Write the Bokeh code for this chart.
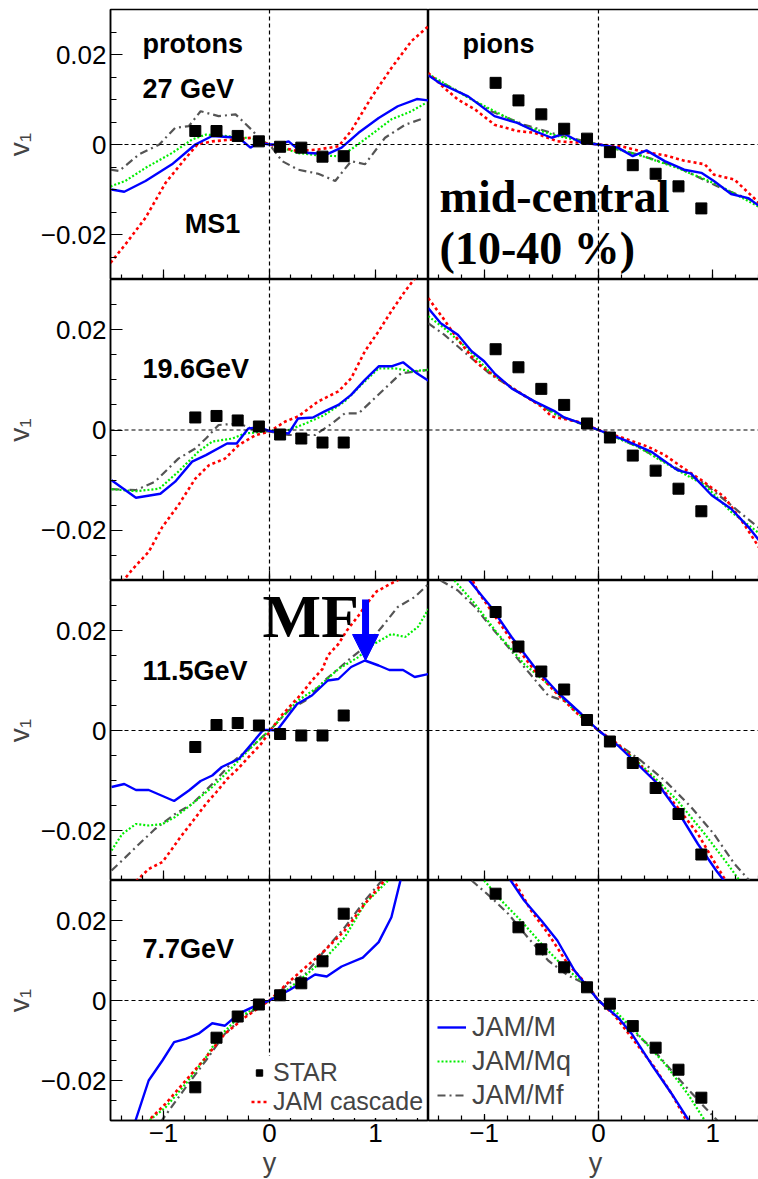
from bokeh.plotting import figure
from bokeh.layouts import column, row
from bokeh.models import (Range1d, FixedTicker, Span, Label, Legend, LegendItem,
                          Arrow, NormalHead, CustomJSTickFormatter, CustomLabelingPolicy)
from bokeh.embed import file_html
from bokeh.resources import INLINE

# ------------------------------------------------------------------ data
STAR_X_P = [-0.7, -0.5, -0.3, -0.1, 0.1, 0.3, 0.5, 0.7]
STAR_X_PI = [-0.9, -0.7, -0.5, -0.3, -0.1, 0.1, 0.3, 0.5, 0.7, 0.9]

# ---- 27 GeV protons
P27_STAR = [0.0030, 0.0030, 0.0019, 0.0007, -0.0005, -0.0007, -0.0027, -0.0026]
P27_M_X = [-1.49, -1.37, -1.17, -0.92, -0.70, -0.54, -0.29, -0.18, -0.10, 0.0, 0.08, 0.18, 0.27, 0.37, 0.55, 0.68, 0.84, 1.03, 1.21, 1.39, 1.50]
P27_M_V = [-0.0100, -0.0105, -0.0081, -0.0044, 0.0000, 0.0019, 0.0015, -0.0007, 0.0004, 0.0, 0.0, 0.0007, -0.0011, -0.0019, -0.0021, -0.0007, 0.0026, 0.0059, 0.0085, 0.0101, 0.0098]
P27_C_X = [-1.50, -1.36, -1.17, -0.98, -0.79, -0.68, -0.54, -0.35, -0.17, 0.0, 0.12, 0.27, 0.46, 0.65, 0.77, 0.96, 1.15, 1.34, 1.50]
P27_C_V = [-0.0263, -0.0222, -0.0163, -0.0085, -0.0030, 0.0000, 0.0007, 0.0011, 0.0015, 0.0, -0.0007, -0.0015, -0.0011, -0.0004, 0.0030, 0.0104, 0.0170, 0.0230, 0.0263]
P27_Q_X = [-1.50, -1.36, -1.17, -0.92, -0.73, -0.60, -0.42, -0.23, -0.10, 0.0, 0.12, 0.27, 0.46, 0.65, 0.77, 0.96, 1.15, 1.34, 1.48]
P27_Q_V = [-0.0093, -0.0081, -0.0052, -0.0019, 0.0011, 0.0022, 0.0019, 0.0015, 0.0011, 0.0, -0.0007, -0.0019, -0.0024, -0.0026, -0.0011, 0.0022, 0.0056, 0.0074, 0.0093]
P27_F_X = [-1.50, -1.42, -1.23, -1.04, -0.89, -0.76, -0.65, -0.48, -0.32, -0.17, -0.07, 0.0, 0.12, 0.27, 0.46, 0.62, 0.77, 0.90, 1.09, 1.28, 1.46]
P27_F_V = [-0.0056, -0.0059, -0.0022, 0.0000, 0.0037, 0.0041, 0.0074, 0.0063, 0.0067, 0.0033, 0.0007, 0.0, -0.0037, -0.0056, -0.0065, -0.0081, -0.0037, -0.0044, 0.0015, 0.0044, 0.0059]

# ---- 27 GeV pions
PI27_STAR = [0.0137, 0.0098, 0.0067, 0.0035, 0.0013, -0.0017, -0.0046, -0.0065, -0.0093, -0.0142]
PI27_M_X = [-1.49, -1.38, -1.14, -0.91, -0.71, -0.56, -0.41, -0.30, -0.15, 0.0, 0.17, 0.30, 0.42, 0.58, 0.75, 0.90, 1.01, 1.16, 1.31, 1.43]
PI27_M_V = [0.0154, 0.0135, 0.0107, 0.0063, 0.0048, 0.0030, 0.0015, 0.0024, 0.0004, 0.0, -0.0007, -0.0026, -0.0013, -0.0037, -0.0056, -0.0063, -0.0081, -0.0110, -0.0119, -0.0141]
PI27_C_X = [-1.49, -1.35, -1.23, -1.08, -0.91, -0.71, -0.56, -0.36, -0.15, 0.0, 0.20, 0.37, 0.58, 0.75, 0.93, 1.01, 1.19, 1.31, 1.43]
PI27_C_V = [0.0159, 0.0126, 0.0100, 0.0078, 0.0044, 0.0030, 0.0026, 0.0007, 0.0004, 0.0, -0.0004, -0.0015, -0.0024, -0.0036, -0.0044, -0.0067, -0.0078, -0.0107, -0.0135]
PI27_Q_X = [-1.49, -1.14, -0.91, -0.65, -0.36, 0.0, 0.34, 0.69, 1.04, 1.43]
PI27_Q_V = [0.0157, 0.0104, 0.0074, 0.0041, 0.0019, 0.0, -0.0022, -0.0052, -0.0089, -0.0142]
PI27_F_X = [-1.49, -1.23, -0.94, -0.65, -0.36, 0.0, 0.34, 0.69, 1.04, 1.43]
PI27_F_V = [0.0154, 0.0119, 0.0074, 0.0044, 0.0022, 0.0, -0.0022, -0.0050, -0.0093, -0.0133]

# ---- 19.6 GeV protons
P19_STAR = [0.0025, 0.0028, 0.0019, 0.0007, -0.0009, -0.0017, -0.0025, -0.0025]
P19_M_X = [-1.49, -1.26, -1.03, -0.89, -0.73, -0.60, -0.40, -0.31, -0.20, -0.10, 0.0, 0.18, 0.27, 0.41, 0.52, 0.65, 0.77, 0.90, 1.03, 1.15, 1.26, 1.39, 1.50]
P19_M_V = [-0.0100, -0.0135, -0.0127, -0.0103, -0.0063, -0.0050, -0.0027, -0.0027, 0.0003, 0.0005, -0.0002, -0.0007, 0.0023, 0.0025, 0.0037, 0.0050, 0.0070, 0.0100, 0.0127, 0.0127, 0.0135, 0.0113, 0.0098]
P19_C_X = [-1.39, -1.29, -1.14, -1.01, -0.86, -0.70, -0.57, -0.42, -0.29, -0.13, 0.0, 0.15, 0.27, 0.46, 0.65, 0.77, 0.90, 1.03, 1.15, 1.28, 1.40]
P19_C_V = [-0.0303, -0.0277, -0.0243, -0.0193, -0.0150, -0.0097, -0.0070, -0.0057, -0.0030, -0.0010, -0.0003, 0.0017, 0.0027, 0.0057, 0.0077, 0.0103, 0.0157, 0.0197, 0.0237, 0.0277, 0.0310]
P19_Q_X = [-1.49, -1.26, -1.04, -0.86, -0.67, -0.54, -0.35, -0.23, 0.0, 0.18, 0.34, 0.52, 0.71, 0.90, 1.03, 1.18, 1.34, 1.50]
P19_Q_V = [-0.0118, -0.0122, -0.0117, -0.0083, -0.0043, -0.0023, -0.0017, -0.0007, -0.0002, 0.0000, 0.0013, 0.0030, 0.0057, 0.0097, 0.0123, 0.0123, 0.0117, 0.0120]
P19_F_X = [-1.49, -1.26, -1.08, -0.86, -0.70, -0.60, -0.48, -0.29, -0.10, 0.0, 0.18, 0.43, 0.59, 0.71, 0.84, 0.96, 1.09, 1.24, 1.40, 1.50]
P19_F_V = [-0.0118, -0.0120, -0.0103, -0.0057, -0.0037, -0.0017, 0.0010, 0.0013, -0.0003, -0.0003, -0.0010, -0.0010, 0.0013, 0.0033, 0.0033, 0.0057, 0.0083, 0.0113, 0.0117, 0.0120]

# ---- 19.6 GeV pions
PI19_STAR = [0.0161, 0.0125, 0.0082, 0.0050, 0.0013, -0.0015, -0.0051, -0.0081, -0.0117, -0.0162]
PI19_M_X = [-1.49, -1.38, -1.23, -1.11, -1.00, -0.91, -0.76, -0.56, -0.38, -0.30, -0.15, 0.0, 0.23, 0.46, 0.69, 0.81, 0.99, 1.16, 1.31, 1.43]
PI19_M_V = [0.0243, 0.0213, 0.0190, 0.0157, 0.0137, 0.0113, 0.0083, 0.0057, 0.0037, 0.0025, 0.0013, 0.0, -0.0020, -0.0043, -0.0080, -0.0087, -0.0130, -0.0157, -0.0193, -0.0227]
PI19_C_X = [-1.49, -1.35, -1.23, -1.06, -0.88, -0.68, -0.50, -0.41, -0.15, 0.0, 0.23, 0.43, 0.58, 0.75, 0.90, 1.10, 1.28, 1.43]
PI19_C_V = [0.0263, 0.0220, 0.0180, 0.0133, 0.0103, 0.0073, 0.0047, 0.0027, 0.0015, 0.0, -0.0017, -0.0033, -0.0050, -0.0077, -0.0100, -0.0133, -0.0190, -0.0243]
PI19_Q_X = [-1.49, -1.35, -1.17, -0.94, -0.71, -0.36, 0.0, 0.34, 0.69, 0.93, 1.16, 1.43]
PI19_Q_V = [0.0227, 0.0203, 0.0167, 0.0113, 0.0077, 0.0030, 0.0, -0.0033, -0.0080, -0.0110, -0.0163, -0.0210]
PI19_F_X = [-1.49, -1.35, -1.11, -0.94, -0.71, -0.36, 0.0, 0.34, 0.69, 0.93, 1.16, 1.43]
PI19_F_V = [0.0213, 0.0190, 0.0143, 0.0110, 0.0077, 0.0029, 0.0, -0.0033, -0.0077, -0.0107, -0.0150, -0.0200]

# ---- 11.5 GeV protons
P11_STAR = [-0.0033, 0.0011, 0.0015, 0.0010, -0.0007, -0.0010, -0.0010, 0.0030]
P11_M_X = [-1.49, -1.37, -1.26, -1.14, -0.90, -0.76, -0.65, -0.54, -0.45, -0.29, -0.17, -0.06, 0.0, 0.07, 0.26, 0.40, 0.55, 0.65, 0.77, 0.90, 1.03, 1.13, 1.26, 1.37, 1.50]
P11_M_V = [-0.0113, -0.0107, -0.0119, -0.0119, -0.0141, -0.0120, -0.0101, -0.0090, -0.0073, -0.0057, -0.0027, 0.0001, 0.0001, 0.0, 0.0053, 0.0070, 0.0100, 0.0103, 0.0127, 0.0140, 0.0130, 0.0121, 0.0121, 0.0107, 0.0113]
P11_C_X = [-1.30, -1.14, -1.01, -0.92, -0.84, -0.73, -0.60, -0.50, -0.40, -0.30, -0.17, -0.08, 0.0, 0.10, 0.20, 0.30, 0.40, 0.50, 0.55, 0.65, 0.73, 0.84, 0.93, 1.01, 1.13, 1.25]
P11_C_V = [-0.0310, -0.0277, -0.0263, -0.0237, -0.0213, -0.0183, -0.0147, -0.0123, -0.0097, -0.0077, -0.0047, -0.0027, -0.0003, 0.0027, 0.0050, 0.0073, 0.0100, 0.0123, 0.0150, 0.0173, 0.0200, 0.0230, 0.0257, 0.0278, 0.0292, 0.0305]
P11_Q_X = [-1.49, -1.39, -1.26, -1.14, -1.01, -0.89, -0.73, -0.54, -0.35, -0.17, 0.0, 0.12, 0.27, 0.46, 0.65, 0.84, 0.96, 1.15, 1.28, 1.40, 1.50]
P11_Q_V = [-0.0240, -0.0207, -0.0187, -0.0190, -0.0187, -0.0173, -0.0147, -0.0113, -0.0073, -0.0033, 0.0, 0.0027, 0.0060, 0.0087, 0.0123, 0.0147, 0.0170, 0.0193, 0.0187, 0.0207, 0.0243]
P11_F_X = [-1.49, -1.39, -1.23, -1.08, -0.89, -0.73, -0.54, -0.35, -0.17, 0.0, 0.18, 0.34, 0.52, 0.74, 0.90, 1.06, 1.21, 1.37, 1.50]
P11_F_V = [-0.0280, -0.0260, -0.0227, -0.0197, -0.0167, -0.0147, -0.0107, -0.0063, -0.0033, 0.0, 0.0040, 0.0060, 0.0100, 0.0140, 0.0167, 0.0207, 0.0247, 0.0267, 0.0293]

# ---- 11.5 GeV pions
PI11_STAR = [0.0237, 0.0168, 0.0118, 0.0082, 0.0021, -0.0022, -0.0065, -0.0115, -0.0167, -0.0248]
PI11_M_X = [-1.13, -0.94, -0.76, -0.56, -0.36, -0.15, 0.0, 0.17, 0.34, 0.52, 0.69, 0.87, 1.03, 1.13]
PI11_M_V = [0.0300, 0.0247, 0.0187, 0.0127, 0.0077, 0.0033, 0.0, -0.0030, -0.0067, -0.0107, -0.0160, -0.0227, -0.0280, -0.0310]
PI11_C_X = [-1.12, -1.06, -0.94, -0.76, -0.56, -0.36, -0.18, 0.0, 0.17, 0.34, 0.52, 0.69, 0.87, 1.04, 1.14]
PI11_C_V = [0.0310, 0.0280, 0.0240, 0.0180, 0.0120, 0.0073, 0.0033, 0.0, -0.0027, -0.0063, -0.0107, -0.0153, -0.0207, -0.0273, -0.0310]
PI11_Q_X = [-1.26, -1.08, -0.88, -0.65, -0.41, -0.21, 0.0, 0.23, 0.46, 0.69, 0.93, 1.13, 1.25]
PI11_Q_V = [0.0300, 0.0253, 0.0193, 0.0133, 0.0087, 0.0040, 0.0, -0.0040, -0.0087, -0.0140, -0.0207, -0.0267, -0.0305]
PI11_F_X = [-1.38, -1.23, -1.08, -0.94, -0.79, -0.65, -0.44, -0.27, -0.12, 0.0, 0.17, 0.37, 0.58, 0.81, 1.01, 1.19, 1.34]
PI11_F_V = [0.0300, 0.0280, 0.0247, 0.0207, 0.0167, 0.0127, 0.0070, 0.0057, 0.0027, 0.0, -0.0027, -0.0060, -0.0100, -0.0153, -0.0207, -0.0267, -0.0305]

# ---- 7.7 GeV protons
P7_STAR = [-0.0217, -0.0093, -0.0040, -0.0010, 0.0013, 0.0043, 0.0098, 0.0217]
P7_M_X = [-1.27, -1.14, -1.01, -0.90, -0.79, -0.67, -0.54, -0.42, -0.29, -0.13, 0.0, 0.18, 0.34, 0.43, 0.54, 0.68, 0.88, 1.03, 1.15, 1.24]
P7_M_V = [-0.0305, -0.0200, -0.0150, -0.0104, -0.0096, -0.0083, -0.0057, -0.0063, -0.0033, -0.0013, 0.0, 0.0025, 0.0050, 0.0065, 0.0060, 0.0085, 0.0107, 0.0146, 0.0208, 0.0305]
P7_C_X = [-1.16, -0.98, -0.79, -0.60, -0.42, -0.23, 0.0, 0.18, 0.34, 0.52, 0.71, 0.90, 1.06, 1.10]
P7_C_V = [-0.0305, -0.0258, -0.0200, -0.0142, -0.0083, -0.0042, 0.0, 0.0046, 0.0083, 0.0125, 0.0175, 0.0242, 0.0292, 0.0305]
P7_Q_X = [-1.16, -0.98, -0.79, -0.60, -0.48, -0.29, 0.0, 0.18, 0.34, 0.52, 0.71, 0.90, 1.12]
P7_Q_V = [-0.0305, -0.0267, -0.0208, -0.0142, -0.0092, -0.0042, 0.0, 0.0029, 0.0063, 0.0104, 0.0158, 0.0242, 0.0300]
P7_F_X = [-1.03, -0.79, -0.60, -0.42, -0.23, 0.0, 0.18, 0.34, 0.52, 0.71, 0.90, 1.06]
P7_F_V = [-0.0305, -0.0217, -0.0150, -0.0083, -0.0038, 0.0, 0.0042, 0.0067, 0.0125, 0.0183, 0.0250, 0.0300]

# ---- 7.7 GeV pions
PI7_STAR = [0.0267, 0.0183, 0.0128, 0.0083, 0.0033, -0.0008, -0.0064, -0.0118, -0.0173, -0.0243]
PI7_M_X = [-0.78, -0.65, -0.50, -0.36, -0.21, -0.06, 0.0, 0.17, 0.29, 0.46, 0.64, 0.79]
PI7_M_V = [0.0305, 0.0250, 0.0200, 0.0150, 0.0075, 0.0021, 0.0, -0.0042, -0.0083, -0.0158, -0.0233, -0.0300]
PI7_C_X = [-0.75, -0.59, -0.44, -0.27, -0.12, 0.0, 0.14, 0.31, 0.49, 0.64, 0.77]
PI7_C_V = [0.0305, 0.0225, 0.0167, 0.0092, 0.0046, 0.0, -0.0037, -0.0100, -0.0167, -0.0233, -0.0300]
PI7_Q_X = [-1.00, -0.85, -0.68, -0.50, -0.30, -0.12, 0.0, 0.17, 0.34, 0.58, 0.78, 0.93]
PI7_Q_V = [0.0300, 0.0250, 0.0200, 0.0142, 0.0083, 0.0042, 0.0, -0.0033, -0.0083, -0.0158, -0.0233, -0.0300]
PI7_F_X = [-1.11, -0.94, -0.79, -0.62, -0.44, -0.27, -0.09, 0.0, 0.23, 0.46, 0.69, 0.90, 1.04]
PI7_F_V = [0.0300, 0.0258, 0.0217, 0.0158, 0.0100, 0.0063, 0.0038, 0.0, -0.0058, -0.0117, -0.0192, -0.0258, -0.0300]

Y_TICKS = [-0.02, 0.0, 0.02]
X_TICKS = [-1, 0, 1]
ENERGY_LABELS = ["27 GeV", "19.6GeV", "11.5GeV", "7.7GeV"]
LEGEND_LEFT = ["STAR", "JAM cascade"]
LEGEND_RIGHT = ["JAM/M", "JAM/Mq", "JAM/Mf"]

# ------------------------------------------------------------------ style
SANS = "Liberation Sans"
SERIF = "Liberation Serif"
FRAME_H = [270, 301, 300, 240]
STY = {
    "M": dict(color="#0000ff", line_width=2.4),
    "C": dict(color="#ff0000", line_width=2.6, line_dash="3 3"),
    "Q": dict(color="#00ee00", line_width=2.2, line_dash="2 2"),
    "F": dict(color="#555555", line_width=2.2, line_dash="8 4 2 4"),
}

Y_FMT = CustomJSTickFormatter(code="""
if (Math.abs(tick) < 1e-9) return "0";
const s = Math.abs(tick).toFixed(2);
return tick < 0 ? "\u2212" + s : s;
""")
X_FMT = CustomJSTickFormatter(code="""
if (Math.abs(tick) < 1e-9) return "0";
const s = Math.abs(tick).toFixed(0);
return tick < 0 ? "\u2212" + s : s;
""")
NO_LABELS = CustomLabelingPolicy(code="""
for (const i of indices) { indices.unset(i) }
return indices
""")


def minor(lo, hi, step):
    n = int(round((hi - lo) / step))
    return [round(lo + i * step, 4) for i in range(n + 1)]


def make_panel(r, c, curves, star_x, star_v):
    if c == 0:
        xr = Range1d(-1.5, 1.5)
        fw = 318
    else:
        xr = Range1d(-1.487, 1.435)
        fw = 334
    p = figure(frame_width=fw, frame_height=FRAME_H[r], x_range=xr,
               y_range=Range1d(-0.03, 0.03), output_backend="svg",
               toolbar_location=None,
               y_axis_location="left" if c == 0 else None,
               x_axis_location="below")
    p.min_border_left = 106 if c == 0 else 0
    p.min_border_right = 0
    p.min_border_top = 9 if r == 0 else 0
    p.min_border_bottom = 59 if r == 3 else 0
    p.background_fill_color = "white"
    p.border_fill_color = "white"
    p.outline_line_color = "black"
    p.outline_line_width = 1.5
    p.xgrid.visible = False
    p.ygrid.visible = False

    xa = p.xaxis[0]
    xa.ticker = FixedTicker(ticks=X_TICKS, minor_ticks=minor(-1.4, 1.4, 0.2))
    xa.formatter = X_FMT
    xa.major_tick_in = 10
    xa.major_tick_out = 0
    xa.minor_tick_in = 5
    xa.minor_tick_out = 0
    xa.axis_line_color = "black"
    xa.axis_line_width = 1.5
    xa.major_tick_line_width = 1.2
    xa.minor_tick_line_width = 1.2
    if r == 3:
        xa.major_label_text_font = SANS
        xa.major_label_text_font_size = "26px"
        xa.major_label_text_color = "black"
        xa.major_label_standoff = 3
        xa.axis_label = "y"
        xa.axis_label_text_font = SANS
        xa.axis_label_text_font_size = "27px"
        xa.axis_label_text_font_style = "normal"
        xa.axis_label_standoff = 3
    else:
        xa.major_label_policy = NO_LABELS
        xa.major_label_text_font_size = "0px"
        xa.major_label_standoff = 0

    if c == 0:
        ya = p.yaxis[0]
        ya.ticker = FixedTicker(ticks=Y_TICKS, minor_ticks=minor(-0.03, 0.03, 0.005))
        ya.formatter = Y_FMT
        ya.major_tick_in = 12
        ya.major_tick_out = 0
        ya.minor_tick_in = 6
        ya.minor_tick_out = 0
        ya.axis_line_color = "black"
        ya.axis_line_width = 1.5
        ya.major_tick_line_width = 1.2
        ya.minor_tick_line_width = 1.2
        ya.major_label_text_font = SANS
        ya.major_label_text_font_size = "26px"
        ya.major_label_text_color = "black"
        ya.major_label_standoff = 4
        ya.axis_label = "v\u2081"
        ya.axis_label_text_font = SANS
        ya.axis_label_text_font_size = "28px"
        ya.axis_label_text_font_style = "normal"
        ya.axis_label_standoff = 3

    for loc, dim in ((0, "width"), (0, "height")):
        p.add_layout(Span(location=loc, dimension=dim, line_color="black",
                          line_width=1.2, line_dash="4 3"))

    rends = {}
    for key in ("F", "Q", "C", "M"):
        xs, vs = curves[key]
        rends[key] = p.line(xs, vs, **STY[key])
    rends["S"] = p.scatter(star_x, star_v, marker="square", size=11,
                           fill_color="black", line_color="black")
    return p, rends


def add_label(p, x, y, text, font=SANS, size="27px", style="bold"):
    p.add_layout(Label(x=x, y=y, text=text, text_font=font, text_font_size=size,
                       text_font_style=style, text_align="left",
                       text_baseline="alphabetic", text_color="black"))


panel_defs = [
    ((P27_M_X, P27_M_V), (P27_C_X, P27_C_V), (P27_Q_X, P27_Q_V), (P27_F_X, P27_F_V), P27_STAR,
     (PI27_M_X, PI27_M_V), (PI27_C_X, PI27_C_V), (PI27_Q_X, PI27_Q_V), (PI27_F_X, PI27_F_V), PI27_STAR),
    ((P19_M_X, P19_M_V), (P19_C_X, P19_C_V), (P19_Q_X, P19_Q_V), (P19_F_X, P19_F_V), P19_STAR,
     (PI19_M_X, PI19_M_V), (PI19_C_X, PI19_C_V), (PI19_Q_X, PI19_Q_V), (PI19_F_X, PI19_F_V), PI19_STAR),
    ((P11_M_X, P11_M_V), (P11_C_X, P11_C_V), (P11_Q_X, P11_Q_V), (P11_F_X, P11_F_V), P11_STAR,
     (PI11_M_X, PI11_M_V), (PI11_C_X, PI11_C_V), (PI11_Q_X, PI11_Q_V), (PI11_F_X, PI11_F_V), PI11_STAR),
    ((P7_M_X, P7_M_V), (P7_C_X, P7_C_V), (P7_Q_X, P7_Q_V), (P7_F_X, P7_F_V), P7_STAR,
     (PI7_M_X, PI7_M_V), (PI7_C_X, PI7_C_V), (PI7_Q_X, PI7_Q_V), (PI7_F_X, PI7_F_V), PI7_STAR),
]

rows = []
figs = []
for r, d in enumerate(panel_defs):
    pl, rl = make_panel(r, 0, {"M": d[0], "C": d[1], "Q": d[2], "F": d[3]}, STAR_X_P, d[4])
    pr, rr = make_panel(r, 1, {"M": d[5], "C": d[6], "Q": d[7], "F": d[8]}, STAR_X_PI, d[9])
    figs.append((pl, pr, rl, rr))
    rows.append(row(pl, pr, spacing=0))

# ---- text annotations (each kept wholly inside one panel)
(p1l, p1r, _, _), (p2l, p2r, _, _), (p3l, p3r, r3l, _), (p4l, p4r, r4l, r4r) = figs
add_label(p1l, -1.198, 0.0224, "protons")
add_label(p1l, -1.198, 0.0124, ENERGY_LABELS[0])
add_label(p1l, -0.80, -0.0176, "MS1")
add_label(p1r, -1.19, 0.0224, "pions")
add_label(p1r, -1.39, -0.0116, "mid-central", font=SERIF, size="46px")
add_label(p1r, -1.39, -0.0232, "(10-40 %)", font=SERIF, size="46px")
add_label(p2l, -1.198, 0.0122, ENERGY_LABELS[1])
add_label(p3l, -0.066, 0.0229, "MF", font=SERIF, size="62px")
add_label(p3l, -1.198, 0.0119, ENERGY_LABELS[2])
add_label(p4l, -1.198, 0.0129, ENERGY_LABELS[3])

p3l.add_layout(Arrow(end=NormalHead(size=26, fill_color="#0000ff", line_color="#0000ff"),
                     x_start=0.906, y_start=0.0262, x_end=0.906, y_end=0.0140,
                     line_color="#0000ff", line_width=7))

# ---- legends
leg_l = Legend(items=[LegendItem(label=LEGEND_LEFT[0], renderers=[r4l["S"]]),
                      LegendItem(label=LEGEND_LEFT[1], renderers=[r4l["C"]])],
               location=(139, 2), orientation="vertical",
               label_text_font=SANS, label_text_font_size="25px",
               glyph_width=16, glyph_height=29, label_height=29, label_standoff=6,
               spacing=0, padding=2, margin=0,
               background_fill_color="white", background_fill_alpha=1.0,
               border_line_alpha=0)
p4l.add_layout(leg_l)
leg_r = Legend(items=[LegendItem(label=LEGEND_RIGHT[0], renderers=[r4r["M"]]),
                      LegendItem(label=LEGEND_RIGHT[1], renderers=[r4r["Q"]]),
                      LegendItem(label=LEGEND_RIGHT[2], renderers=[r4r["F"]])],
               location=(7, 6), orientation="vertical",
               label_text_font=SANS, label_text_font_size="27px",
               glyph_width=29, glyph_height=34, label_height=34, label_standoff=6,
               spacing=0, padding=2, margin=0,
               background_fill_color="white", background_fill_alpha=1.0,
               border_line_alpha=0)
p4r.add_layout(leg_r)

layout = column(*rows, spacing=0)
open("out.html", "w").write(file_html(layout, INLINE))
